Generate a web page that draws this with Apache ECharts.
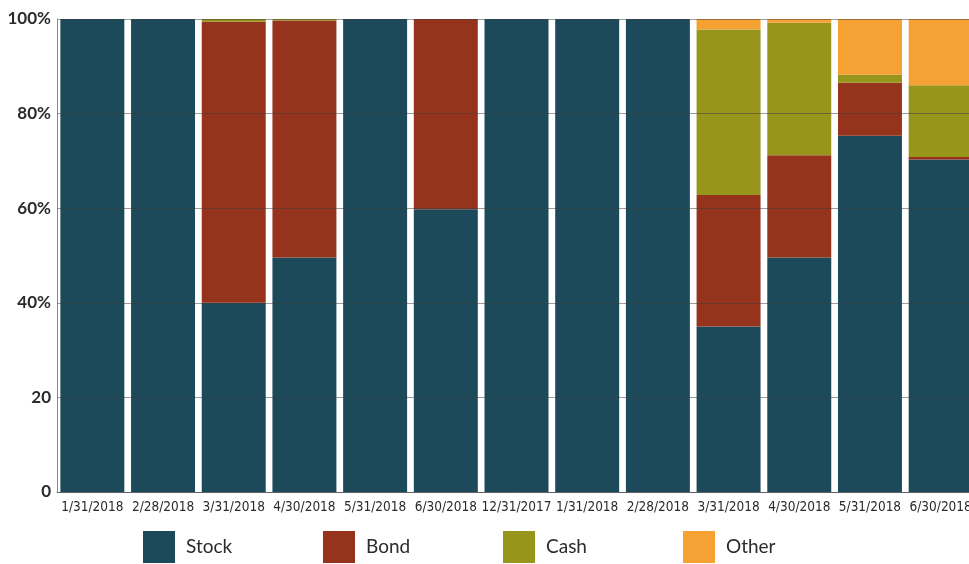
<!DOCTYPE html>
<html>
<head>
<meta charset="utf-8">
<script src="https://cdn.jsdelivr.net/npm/echarts@6/dist/echarts.min.js"></script>
<style>
  html, body { margin: 0; padding: 0; background: #fff; }
  #main { width: 969px; height: 564px; }
</style>
</head>
<body>
<div id="main"></div>
<script>
// categories and series values (percent)
var dates = ['1/31/2018', '2/28/2018', '3/31/2018', '4/30/2018', '5/31/2018', '6/30/2018',
    '12/31/2017', '1/31/2018 ', '2/28/2018 ', '3/31/2018 ', '4/30/2018 ', '5/31/2018 ', '6/30/2018 '];
var seriesNames = ['Stock', 'Bond', 'Cash', 'Other'];
var stock = [100, 100, 40, 49.6, 100, 59.8, 100, 100, 100, 35, 49.6, 75.3, 70.3];
var bond  = [0, 0, 59.4, 50.1, 0, 40.2, 0, 0, 0, 27.8, 21.6, 11.2, 0.5];
var cash  = [0, 0, 0.6, 0.3, 0, 0, 0, 0, 0, 35, 28, 1.7, 15.2];
var other = [0, 0, 0, 0, 0, 0, 0, 0, 0, 2.2, 0.8, 11.8, 14];
var yTicks = {0: '0', 20: '20', 40: '40%', 60: '60%', 80: '80%', 100: '100%'};

window.onload = function () {
    var myChart = echarts.init(document.getElementById('main'));
    var font = 'Lato, "Open Sans", sans-serif';
    var narrow = '"DejaVu Sans Condensed", Lato, sans-serif';
    var colors = ['#1c4a5a', '#96331c', '#98951c', '#f6a133'];

    function bar(name, data, color) {
        return {
            name: name,
            type: 'bar',
            stack: 'total',
            data: data,
            barCategoryGap: '9.5%',
            itemStyle: {color: color},
            emphasis: {disabled: true}
        };
    }

    // one legend per item so they sit on a fixed 180px pitch
    var legends = seriesNames.map(function (n, i) {
        return {
            left: 138 + i * 180,
            top: 526,
            itemWidth: 32,
            itemHeight: 32,
            itemGap: 0,
            icon: 'rect',
            selectedMode: false,
            textStyle: {fontFamily: font, fontSize: 19, color: '#2b2b2b', padding: [0, 0, 0, 6]},
            data: [n]
        };
    });

    var option = {
        animation: false,
        grid: {left: 57, top: 19, width: 919, height: 473, outerBoundsMode: 'none'},
        legend: legends,
        xAxis: {
            type: 'category',
            data: dates,
            axisLine: {lineStyle: {color: '#888'}},
            axisTick: {inside: true, length: 12, lineStyle: {color: '#aaa'}},
            axisLabel: {fontFamily: narrow, fontSize: 13.5, color: '#2b2b2b', margin: 8, interval: 0,
                formatter: function (v) { return v.trim(); }}
        },
        yAxis: {
            type: 'value',
            min: 0,
            max: 100,
            interval: 20,
            z: 10,
            axisLine: {show: true, lineStyle: {color: '#888'}},
            axisTick: {show: false},
            splitLine: {lineStyle: {color: 'rgba(60,60,60,0.5)', width: 1}},
            axisLabel: {fontFamily: font, fontSize: 17, fontWeight: 'bold', color: '#2b2b2b', margin: 6,
                formatter: function (v) { return yTicks[v]; }}
        },
        series: [
            bar('Stock', stock, colors[0]),
            bar('Bond', bond, colors[1]),
            bar('Cash', cash, colors[2]),
            bar('Other', other, colors[3])
        ]
    };

    myChart.setOption(option);
};
</script>
</body>
</html>
